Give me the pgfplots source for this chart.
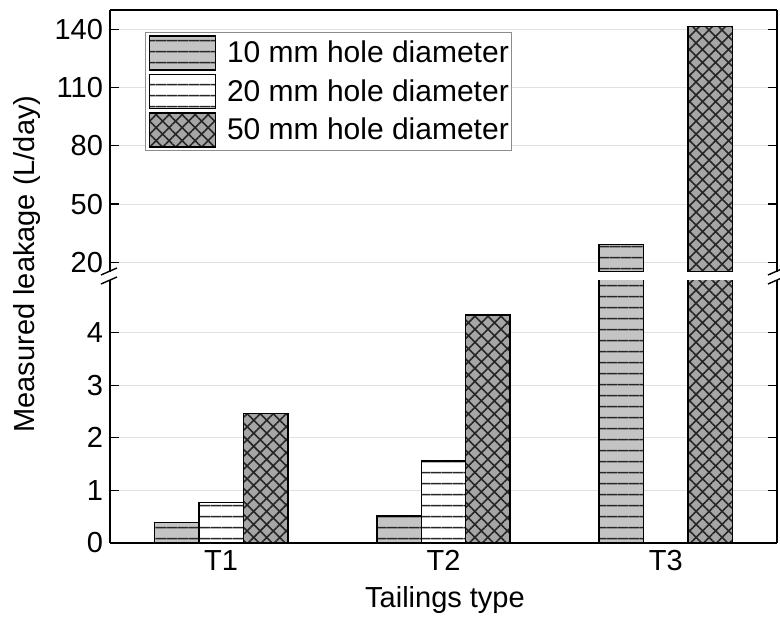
\documentclass[border=0pt]{standalone}
\usepackage{fontspec}
\setmainfont{Liberation Sans}
\usepackage{pgfplots}
\pgfplotsset{compat=1.18}
\usetikzlibrary{patterns.meta}

\definecolor{fillA}{HTML}{C4C4C4}
\definecolor{fillC}{HTML}{A6A6A6}
\definecolor{hatchc}{HTML}{262626}

\pgfplotsset{
  mybase/.style={
    width=333.5pt, scale only axis,
    xmin=0.5, xmax=3.5,
    xtick={1,2,3},
    major tick length=4.5pt,
    ytick style={black, line width=0.6pt},
    xtick style={draw=none},
    axis line style={line width=0.7pt},
    ymajorgrids, grid style={black!12, line width=0.5pt},
    font=\fontsize{14.5}{17}\selectfont,
    tick label style={font=\fontsize{14.5}{17}\selectfont},
    /pgf/number format/assume math mode=true,
  },
  barleg/.style={legend image code/.code={\draw[##1] (0pt,-8.5pt) rectangle (33pt,8.5pt);}},
  bb/.style={ybar, bar width=0.2, bar shift=#1, barleg},
  s10/.style={draw=black, line width=0.75pt, fill=fillA,
    postaction={pattern={Lines[angle=0,distance=5.4pt,line width=0.8pt]}, pattern color=hatchc}},
  s20/.style={draw=black, line width=0.75pt, fill=white,
    postaction={pattern={Lines[angle=0,distance=5.4pt,line width=0.8pt]}, pattern color=hatchc}},
  s50/.style={draw=black, line width=0.75pt, fill=fillC,
    postaction={pattern={Hatch[angle=45,distance=4.6pt,line width=0.8pt]}, pattern color=hatchc}},
}

\begin{document}
\begin{tikzpicture}
\path[use as bounding box] (-55pt,-46pt) rectangle (335pt,271.5pt);

% upper part (15 to 150)
\begin{axis}[mybase,
  at={(0pt,135.5pt)}, anchor=south west,
  height=131pt,
  ymin=15, ymax=150,
  ytick={20,50,80,110,140},
  axis x line*=top,
  xticklabels={},
  legend style={at={(axis description cs:0.0525,0.916)}, anchor=north west,
    draw=black!45, line width=0.5pt, inner sep=1.5pt, row sep=1.5pt,
    column sep=5.5pt, cells={anchor=west}, nodes={inner sep=0pt},
    font=\fontsize{15}{17}\selectfont},
]
\addplot[bb=-0.2, s10] coordinates {(3,29.1)};
\addlegendimage{s20, barleg}
\addplot[bb=0.2, s50] coordinates {(3,141.5)};
\legend{10 mm hole diameter, 20 mm hole diameter, 50 mm hole diameter}
\end{axis}

% lower part (0 to 5)
\begin{axis}[mybase,
  at={(0pt,0pt)}, anchor=south west,
  height=131.5pt,
  ymin=0, ymax=5,
  ytick={0,1,2,3,4},
  axis x line*=bottom,
  xticklabels={T1,T2,T3},
]
\addplot[bb=-0.2, s10] coordinates {(1,0.39) (2,0.51) (3,29.1)};
\addplot[bb=0, s20] coordinates {(1,0.77) (2,1.56)};
\addplot[bb=0.2, s50] coordinates {(1,2.46) (2,4.33) (3,141.5)};
\end{axis}

% axis break marks
\foreach \xx in {0pt,333.5pt}{
  \draw[line width=0.7pt] ([xshift=-4.5pt]\xx,134pt) -- ([xshift=3.5pt]\xx,137.5pt);
  \draw[line width=0.7pt] ([xshift=-4.5pt]\xx,129.5pt) -- ([xshift=3.5pt]\xx,133pt);
}

\node[rotate=90, font=\fontsize{14.5}{17}\selectfont] at (-41.5pt,139.5pt) {Measured leakage (L/day)};
\node[font=\fontsize{14.5}{17}\selectfont] at (167.5pt,-28.5pt) {Tailings type};
\end{tikzpicture}
\end{document}
